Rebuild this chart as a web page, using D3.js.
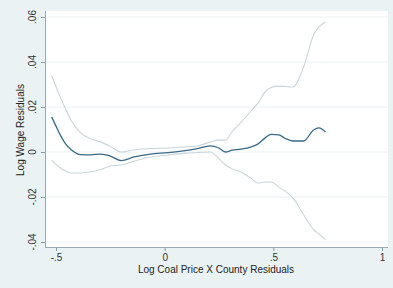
<!DOCTYPE html>
<html><head><meta charset="utf-8">
<script src="https://cdn.jsdelivr.net/npm/d3@7"></script>
<style>html,body{margin:0;padding:0;background:#eaf2f3;}svg{display:block;}</style>
</head><body><svg id="c" width="393" height="288"></svg>
<script>
const xs    = [-0.52,-0.50,-0.48,-0.455,-0.43,-0.385,-0.34,-0.295,-0.25,-0.20,-0.14,-0.065,0.015,0.085,0.15,0.21,0.245,0.28,0.31,0.35,0.395,0.43,0.465,0.49,0.525,0.555,0.59,0.64,0.685,0.71,0.74];
const fit   = [0.0156,0.0115,0.0075,0.0035,0.001,-0.0012,-0.0013,-0.0009,-0.0018,-0.0038,-0.0022,-0.0009,-0.0003,0.0005,0.0015,0.0027,0.002,0.0,0.0008,0.0013,0.0022,0.0036,0.0065,0.0078,0.0076,0.006,0.0049,0.0049,0.0098,0.0107,0.0089];
const upper = [0.034,0.029,0.0244,0.019,0.014,0.0084,0.0058,0.0045,0.0025,0.0,0.001,0.0015,0.0018,0.0022,0.0027,0.0044,0.0053,0.0053,0.009,0.013,0.018,0.0218,0.027,0.0287,0.0293,0.0291,0.0289,0.038,0.052,0.0556,0.0578];
const lower = [-0.0036,-0.0055,-0.0071,-0.0085,-0.0093,-0.0093,-0.0088,-0.0078,-0.0062,-0.0058,-0.004,-0.0022,-0.0013,-0.0006,-0.0002,0.0,-0.0025,-0.0058,-0.0075,-0.0089,-0.0115,-0.0138,-0.0133,-0.0133,-0.0156,-0.0175,-0.0204,-0.028,-0.0345,-0.0365,-0.039];
const xTicks = [-0.5,0,0.5,1];
const xTickLabels = ["-.5","0",".5","1"];
const yTicks = [-0.04,-0.02,0,0.02,0.04,0.06];
const yTickLabels = ["-.04","-.02","0",".02",".04",".06"];
const xTitle = "Log Coal Price X County Residuals";
const yTitle = "Log Wage Residuals";

const svg = d3.select("#c");
const font = "'Liberation Sans', Arial, sans-serif";
const P = {l:45, r:388, t:11, b:247};
svg.append("rect").attr("width",393).attr("height",288).attr("fill","#eaf2f3");
svg.append("rect").attr("x",P.l).attr("y",P.t).attr("width",P.r-P.l).attr("height",P.b-P.t).attr("fill","#ffffff");

const x = d3.scaleLinear().domain([-0.5,1]).range([56,382]);
const y = d3.scaleLinear().domain([-0.04,0.06]).range([242,17]);

svg.append("g").selectAll("line").data(yTicks).join("line")
  .attr("x1",P.l).attr("x2",P.r).attr("y1",d=>y(d)).attr("y2",d=>y(d))
  .attr("stroke","#eaf2f3").attr("stroke-width",1);

const yAxis = d3.axisLeft(y).tickValues(yTicks).tickFormat((d,i)=>yTickLabels[i]).tickSize(4).tickSizeOuter(0);
const gy = svg.append("g").attr("transform",`translate(${P.l},0)`).call(yAxis);
gy.select(".domain").remove();
gy.selectAll(".tick line").attr("stroke","#8a9aa3");
gy.selectAll(".tick text").remove();
svg.append("line").attr("x1",P.l+0.5).attr("x2",P.l+0.5).attr("y1",P.t).attr("y2",P.b).attr("stroke","#9aaab3");
svg.append("g").selectAll("text").data(yTicks).join("text")
  .attr("transform",(d)=>`translate(36,${y(d)}) rotate(-90)`)
  .attr("text-anchor","middle").attr("font-family",font).attr("font-size",10).attr("fill","#333")
  .text((d,i)=>yTickLabels[i]);

const xAxis = d3.axisBottom(x).tickValues(xTicks).tickFormat((d,i)=>xTickLabels[i]).tickSize(4).tickSizeOuter(0);
const gx = svg.append("g").attr("transform",`translate(0,${P.b})`).call(xAxis);
gx.select(".domain").remove();
gx.selectAll(".tick line").attr("stroke","#8a9aa3");
gx.selectAll(".tick text").attr("font-family",font).attr("font-size",10).attr("fill","#333").attr("dy","0.9em").attr("y",5);
svg.append("line").attr("x1",P.l).attr("x2",P.r).attr("y1",P.b+0.5).attr("y2",P.b+0.5).attr("stroke","#9aaab3");

const mk = arr => d3.line().x((d,i)=>x(xs[i])).y(d=>y(d)).curve(d3.curveMonotoneX)(arr);
svg.append("path").attr("d",mk(upper)).attr("fill","none").attr("stroke","#c9d4da").attr("stroke-width",1.1);
svg.append("path").attr("d",mk(lower)).attr("fill","none").attr("stroke","#c9d4da").attr("stroke-width",1.1);
svg.append("path").attr("d",mk(fit)).attr("fill","none").attr("stroke","#376a88").attr("stroke-width",1.3);

svg.append("text").attr("x",216).attr("y",273).attr("text-anchor","middle")
  .attr("font-family",font).attr("font-size",10).attr("fill","#222").text(xTitle);
svg.append("text").attr("transform","translate(24,130) rotate(-90)").attr("text-anchor","middle")
  .attr("font-family",font).attr("font-size",10).attr("fill","#222").text(yTitle);
</script></body></html>
